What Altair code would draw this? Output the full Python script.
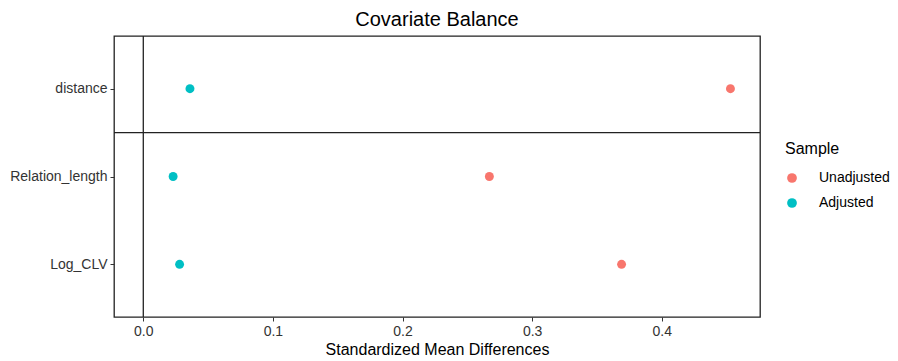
import altair as alt
import pandas as pd

# Covariates listed top to bottom, with their absolute standardized mean differences
covariates = ["distance", "Relation_length", "Log_CLV"]
unadjusted = [0.453, 0.267, 0.369]
adjusted = [0.036, 0.023, 0.028]
samples = ["Unadjusted", "Adjusted"]
sample_colors = ["#F8766D", "#00BFC4"]
x_ticks = [0.0, 0.1, 0.2, 0.3, 0.4]

rows = []
for i, name in enumerate(covariates):
    rows.append({"covariate": name, "pos": i + 1, "Sample": "Unadjusted", "smd": unadjusted[i]})
    rows.append({"covariate": name, "pos": i + 1, "Sample": "Adjusted", "smd": adjusted[i]})
df = pd.DataFrame(rows)

label_expr = " : ".join(
    f"datum.value == {i + 1} ? '{name}'" for i, name in enumerate(covariates)
) + " : ''"

x_scale = alt.Scale(domain=[-0.0226, 0.4758], nice=False, zero=False)
y_scale = alt.Scale(domain=[0.4, 3.6], reverse=True, nice=False, zero=False)

x_enc = alt.X(
    "smd:Q",
    scale=x_scale,
    title="Standardized Mean Differences",
    axis=alt.Axis(values=x_ticks, format=".1f", grid=False, domain=False,
                  tickSize=4, tickColor="#333333", labelPadding=3,
                  labelFontSize=14, labelColor="#333333", labelFont="Liberation Sans",
                  titleFontSize=16, titleFont="Liberation Sans", titleFontWeight="normal",
                  titleColor="#000000", titlePadding=3),
)
y_enc = alt.Y(
    "pos:Q",
    scale=y_scale,
    title=None,
    axis=alt.Axis(values=[1, 2, 3], labelExpr=label_expr, grid=False, domain=False,
                  tickSize=4, tickColor="#333333", labelPadding=3,
                  labelFontSize=14, labelColor="#333333", labelFont="Liberation Sans"),
)

points = alt.Chart(df).mark_point(filled=True, size=80, opacity=1).encode(
    x=x_enc,
    y=y_enc,
    color=alt.Color(
        "Sample:N",
        scale=alt.Scale(domain=samples, range=sample_colors),
        legend=alt.Legend(
            orient="none", legendX=671, legendY=105,
            title="Sample", titleFontSize=16, titleFont="Liberation Sans",
            titleFontWeight="normal", titleColor="#000000", titlePadding=14,
            labelFontSize=14, labelFont="Liberation Sans", labelColor="#000000",
            labelOffset=20, rowPadding=11, symbolSize=95, symbolType="circle",
            symbolStrokeWidth=0,
        ),
    ),
)

# Zero reference line and the separator between the distance row and the covariates
zero_line = alt.Chart(pd.DataFrame({"x0": [0.0]})).mark_rule(
    color="#222222", strokeWidth=1.3
).encode(x=alt.X("x0:Q", scale=x_scale))

separator = alt.Chart(pd.DataFrame({"y0": [1.5]})).mark_rule(
    color="#222222", strokeWidth=1.3
).encode(y=alt.Y("y0:Q", scale=y_scale))

chart = (
    alt.layer(zero_line, separator, points)
    .properties(
        width=646,
        height=281,
        title=alt.TitleParams(
            "Covariate Balance", fontSize=20, font="Liberation Sans",
            fontWeight="normal", color="#000000", anchor="middle",
            baseline="alphabetic", offset=11, dy=22,
        ),
        autosize=alt.AutoSizeParams(type="none"),
        padding={"left": 114, "top": 36, "right": 138, "bottom": 44},
    )
    .configure(background="white")
    .configure_view(stroke="#222222", strokeWidth=1.3)
)

chart.save("out.html", embed_options={"renderer": "svg", "actions": False})
